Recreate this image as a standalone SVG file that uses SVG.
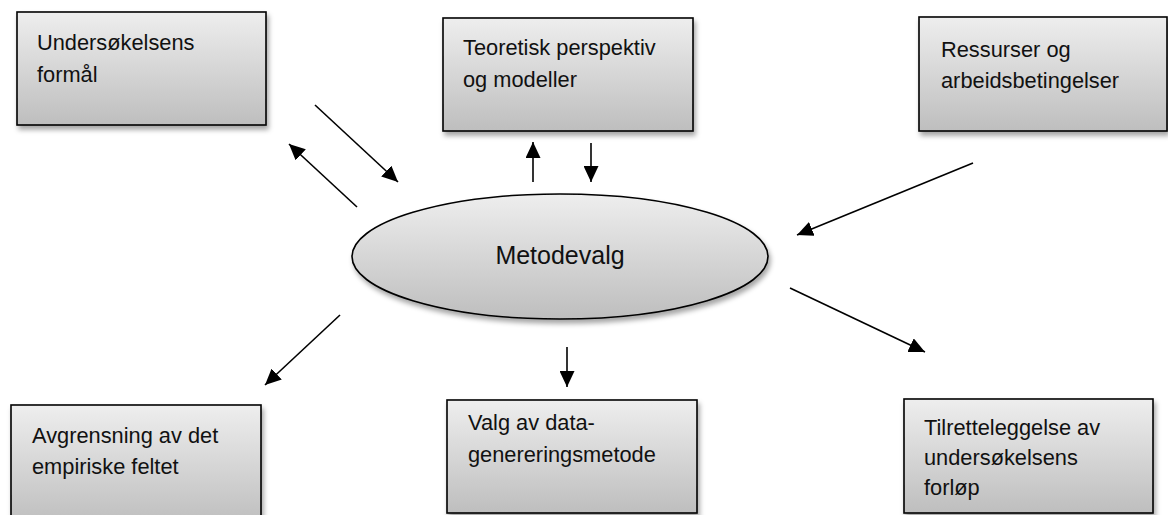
<svg xmlns="http://www.w3.org/2000/svg" width="1168" height="515" viewBox="0 0 1168 515">
<style>
.box{fill:url(#g);stroke:#000;stroke-width:1.6;filter:url(#sh)}
.t{font-family:"Liberation Sans",Arial,sans-serif;font-size:21.8px;fill:#111}
.c{stroke:#000;stroke-width:1.6;fill:none;marker-end:url(#ah)}
</style>
<defs>
<linearGradient id="g" x1="0" y1="0" x2="0" y2="1">
<stop offset="0" stop-color="#eeeeee"/>
<stop offset="1" stop-color="#bebebe"/>
</linearGradient>
<filter id="sh" x="-10%" y="-10%" width="130%" height="140%">
<feDropShadow dx="2" dy="4" stdDeviation="2.5" flood-color="#000" flood-opacity="0.35"/>
</filter>
<marker id="ah" markerUnits="userSpaceOnUse" markerWidth="18" markerHeight="15" refX="16" refY="7.5" orient="auto">
<path d="M0,0 L16,7.5 L0,15 Z" fill="#000"/>
</marker>
</defs>
<rect width="1168" height="515" fill="#fff"/>
<g id="n1"><rect class="box" x="17" y="12" width="249" height="113"/>
<text class="t" x="37" y="50">Undersøkelsens</text><text class="t" x="37" y="82">formål</text></g>
<g id="n2"><rect class="box" x="443" y="18" width="250" height="113"/>
<text class="t" x="463" y="55">Teoretisk perspektiv</text><text class="t" x="463" y="87">og modeller</text></g>
<g id="n3"><rect class="box" x="919" y="17" width="248" height="114"/>
<text class="t" x="941" y="57">Ressurser og</text><text class="t" x="941" y="88">arbeidsbetingelser</text></g>
<g id="n4"><ellipse class="box" cx="560" cy="256.5" rx="208" ry="62.5"/>
<text x="560" y="264" text-anchor="middle" style="font-family:'Liberation Sans',Arial,sans-serif;font-size:25px;fill:#111">Metodevalg</text></g>
<g id="n5"><rect class="box" x="11" y="405" width="250" height="120"/>
<text class="t" x="32" y="443">Avgrensning av det</text><text class="t" x="32" y="474">empiriske feltet</text></g>
<g id="n6"><rect class="box" x="447" y="400" width="250" height="113"/>
<text class="t" x="468" y="430">Valg av data-</text><text class="t" x="468" y="462">genereringsmetode</text></g>
<g id="n7"><rect class="box" x="904" y="399" width="249" height="114"/>
<text class="t" x="924" y="435">Tilretteleggelse av</text><text class="t" x="924" y="465">undersøkelsens</text><text class="t" x="924" y="495">forløp</text></g>
<g id="connectors">
<line class="c" x1="315" y1="105" x2="398" y2="182"/>
<line class="c" x1="357" y1="207" x2="289" y2="144"/>
<line class="c" x1="533" y1="182" x2="533" y2="142"/>
<line class="c" x1="591" y1="143" x2="591" y2="182"/>
<line class="c" x1="973" y1="163" x2="797" y2="235"/>
<line class="c" x1="340" y1="315" x2="265" y2="385"/>
<line class="c" x1="567" y1="347" x2="567" y2="387"/>
<line class="c" x1="790" y1="288" x2="925" y2="352"/>
</g>
</svg>
